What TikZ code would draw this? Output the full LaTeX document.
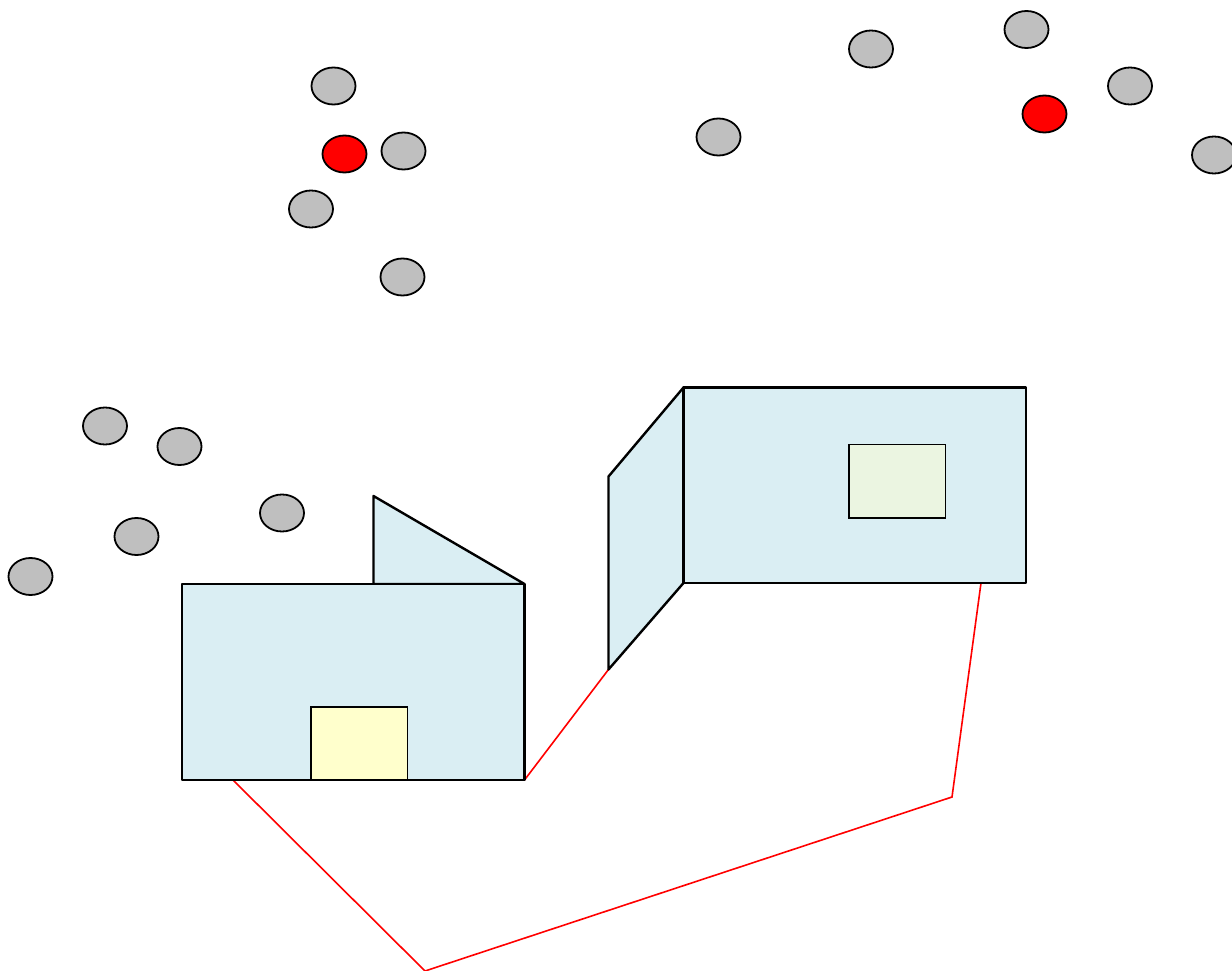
\documentclass[tikz,border=0pt]{standalone}
\usetikzlibrary{shapes.geometric}
\begin{document}
\begin{tikzpicture}[x=1pt,y=-1pt,
  person/.style={ellipse,draw=black,line width=1.8pt,fill=#1,minimum width=44pt,minimum height=37pt,inner sep=0pt},
  wall/.style={draw=black,line width=2.4pt,fill=wallblue,line join=round},
  inset/.style={draw=black,line width=1.8pt},
  wire/.style={draw=red,line width=1.6pt,line join=miter}]
\definecolor{wallblue}{HTML}{DAEEF3}
\definecolor{doorY}{HTML}{FFFFCC}
\definecolor{winG}{HTML}{EBF5E1}
\definecolor{dotgrey}{HTML}{BFBFBF}
\useasboundingbox (0,0) rectangle (1232,971);
% people
\foreach \n/\x/\y in {g1/333.5/86,g2/403.5/151,g3/311/209,g4/402.5/277,g5/718.5/137,g6/871/49,g7/1026.5/29.5,g8/1130/86,g9/1214/155,g10/105/426,g11/179.5/446.5,g12/282/513,g13/136.5/536.5,g14/30.5/576.5}
  \node[person=dotgrey] (\n) at (\x,\y) {};
\node[person=red] (r1) at (344.5,154) {};
\node[person=red] (r2) at (1044.5,114) {};
% red route
\coordinate (a) at (233,780);
\coordinate (b) at (425,971);
\coordinate (c) at (952,797);
\coordinate (d) at (981,583);
\coordinate (e) at (524.5,780);
\coordinate (f) at (608.5,669.5);
\draw[wire] (a) -- (b) -- (c) -- (d);
\draw[wire] (e) -- (f);
% left building
\draw[wall] (373.5,584) -- (373.5,496) -- (524.5,584) -- cycle;
\draw[wall] (182,584) rectangle (524.5,780);
\draw[inset,fill=doorY] (311,707) rectangle (407.5,780);
\draw[wall,fill=none] (182,780) -- (524.5,780);
% right building
\draw[wall] (683.5,387.5) -- (608.5,476.5) -- (608.5,669.5) -- (683.5,583) -- cycle;
\draw[wall] (683.5,387.5) rectangle (1026,583);
\draw[inset,fill=winG] (849,444.5) rectangle (945.5,518);
\end{tikzpicture}
\end{document}
